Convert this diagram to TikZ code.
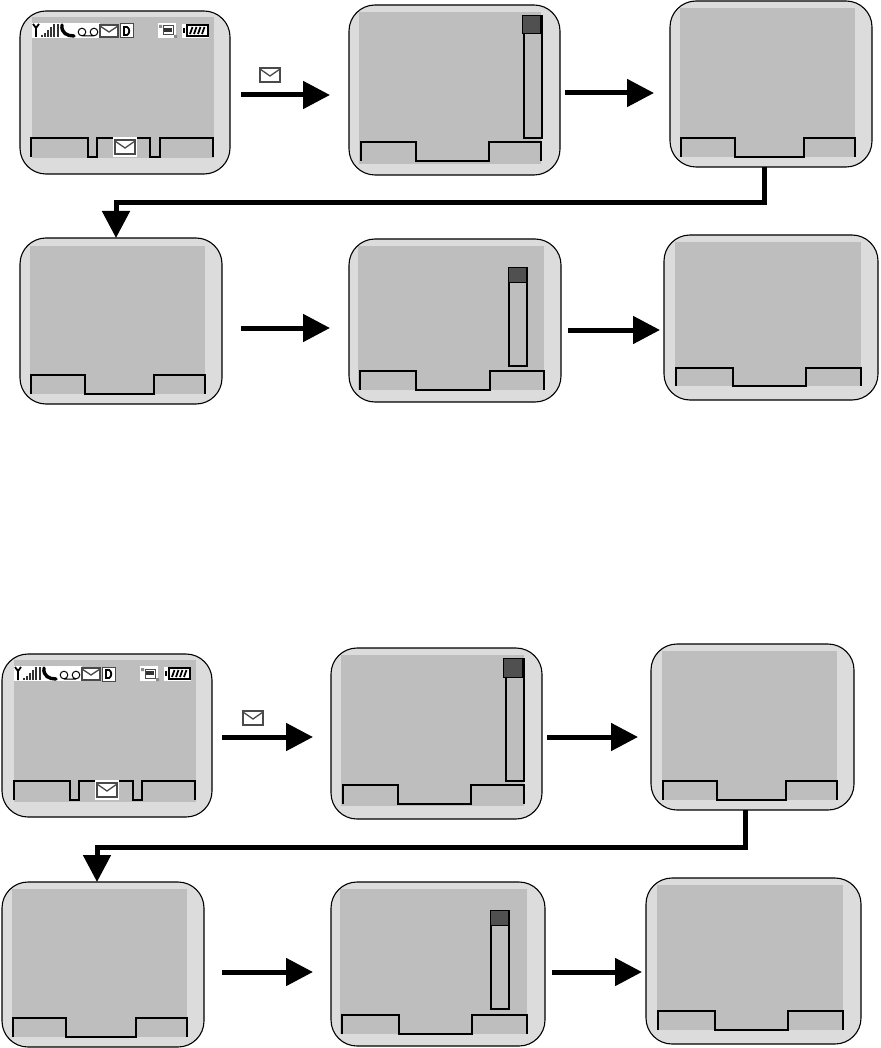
\documentclass[tikz,border=0pt]{standalone}
\usetikzlibrary{arrows.meta,positioning}
\definecolor{CaseGray}{HTML}{DCDCDC}
\definecolor{LcdGray}{HTML}{BEBEBE}
\definecolor{ThumbGray}{HTML}{505050}
\definecolor{IconGray}{HTML}{4A4A4A}
\tikzset{
  phone/.style={rectangle,rounded corners=26pt,draw=black,line width=1.1pt,
                fill=CaseGray,anchor=north west,inner sep=0pt,outer sep=0pt},
  lcd/.style={rectangle,fill=LcdGray,anchor=north west,inner sep=0pt,outer sep=0pt},
  soft/.style={draw=black,line width=1.2pt,line join=miter},
  track/.style={draw=black,line width=1.6pt,fill=LcdGray,anchor=north west,inner sep=0pt},
  thumb/.style={draw=black,line width=1.4pt,fill=ThumbGray,anchor=north west,inner sep=0pt},
  arr/.style={-{Triangle[length=27pt,width=27pt]},line width=5pt,color=black},
  mailbox/.style={draw=IconGray,line width=1.3pt,fill=white},
}
% softkey outline: x of the four corners, then top and bottom
\newcommand{\softkeys}[6]{
  \draw[soft] (#1,#6) -- (#1,#5) -- (#2,#5) -- (#2,#6) -- (#3,#6) -- (#3,#5)
    -- (#4,#5) -- (#4,#6);
}
% softkey outline with the raised middle tab: six x values, top, bottom
\newcommand{\softtabs}[8]{
  \draw[soft] (#1,#8) -- (#1,#7) -- (#2,#7) -- (#2,#8) -- (#3,#8) -- (#3,#7)
    -- (#4,#7) -- (#4,#8) -- (#5,#8) -- (#5,#7) -- (#6,#7) -- (#6,#8);
}
\newcommand{\mailicon}[2]{
  \begin{scope}[shift={(#1,#2)}]
    \draw[mailbox] (0,0) rectangle (20,14);
    \draw[draw=IconGray,line width=1.3pt] (0,1) -- (10,8) -- (20,1);
  \end{scope}
}
% row of status icons along the top of the screen
\newcommand{\statusicons}[2]{
  \begin{scope}[shift={(#1,#2)}]
    \fill[white] (0,0) rectangle (68,15);
    \fill[white] (126,0) rectangle (144,15);
    \fill[white] (150,1) rectangle (177,15);
    \draw[line width=1.8pt] (1,1) -- (4,5) -- (7,1) (4,4) -- (4,14);
    \foreach \xa/\ya in {10/12,13/10,16/7,19/4,22/1}
      \draw[line width=1.7pt,black!80] (\xa,14) -- (\xa,\ya);
    \draw[line width=1.7pt,black!80] (26,14) -- (26,1);
    \draw[line width=3.4pt,line cap=round] (30,2) .. controls (29,10) and (35,13) .. (42,13);
    \draw[line width=1pt] (50,9) circle (3.8) (62,9) circle (3.8) (50,13) -- (62,13);
    \draw[fill=white,draw=IconGray,line width=1.3pt] (68,2) rectangle (86,14);
    \draw[draw=IconGray,line width=1.3pt] (68,3) -- (77,9) -- (86,3);
    \fill[white] (88,1) rectangle (101,15);
    \draw[line width=1pt,IconGray] (88,1) rectangle (101,15);
    \draw[line width=1.8pt] (92,4) -- (92,12) -- (95,12) .. controls (98,11) and (98,5) .. (95,4) -- cycle;
    \draw[line width=1pt,black!70] (131,3) rectangle (141,12);
    \fill[black!80] (132,5) rectangle (140,9);
    \fill[black!45] (127,2) rectangle (130,5) (142,12) rectangle (145,15);
    \draw[line width=1.1pt] (155,2) rectangle (176,13);
    \draw[line width=1.1pt] (152,5) -- (152,10);
    \foreach \xa in {158,162,166,170}
      \draw[line width=1.8pt] (\xa,11) -- (\xa+2.5,4);
  \end{scope}
}
\begin{document}
\begin{tikzpicture}[x=1pt,y=-1pt]
  \useasboundingbox (0,0) rectangle (880,1048);

  % upper group
  \node[phone,minimum width=210,minimum height=163] (p1) at (20,11) {};
  \node[lcd,minimum width=182,minimum height=141] (s1) at (32,17) {};
  \statusicons{32}{23}
  \softtabs{31}{88}{97}{150}{160}{213}{138}{157}
  \fill[white] (113,137) rectangle (137,157);
  \mailicon{115}{140}
  \node[phone,minimum width=211,minimum height=170] (p2) at (349,5) {};
  \node[lcd,minimum width=182,minimum height=152] (s2) at (359,12) {};
  \softkeys{361}{416}{489}{541}{142}{161}
  \node[track,minimum width=18,minimum height=122] (b2) at (523,15) {};
  \node[thumb,minimum width=18,minimum height=18] (t2) at (522,15) {};

  \node[phone,minimum width=202,minimum height=166] (p3) at (670,1) {};
  \node[lcd,minimum width=175,minimum height=149] (s3) at (680,8) {};
  \softkeys{681}{735}{804}{855}{138}{157}

  \node[phone,minimum width=202,minimum height=166] (p4) at (20,238) {};
  \node[lcd,minimum width=175,minimum height=148] (s4) at (30,246) {};
  \softkeys{31}{85}{154}{205}{375}{394}

  \node[phone,minimum width=212,minimum height=163] (p5) at (349,239) {};
  \node[lcd,minimum width=186,minimum height=144] (s5) at (358,246) {};
  \softkeys{360}{416}{490}{544}{371}{390}
  \node[track,minimum width=18,minimum height=98] (b5) at (508,267) {};
  \node[thumb,minimum width=18,minimum height=15] (t5) at (508,267) {};

  \node[phone,minimum width=214,minimum height=165] (p6) at (664,235) {};
  \node[lcd,minimum width=186,minimum height=144] (s6) at (675,242) {};
  \softkeys{676}{733}{806}{861}{368}{386}

  \mailicon{260}{68}
  \draw[arr,shorten <=11pt,shorten >=19pt] ([yshift=-2.5pt]p1.east) -- ([yshift=-2.5pt]p1.east -| p2.west);
  \draw[arr,shorten <=5pt,shorten >=16pt] ([yshift=-3pt]p2.east) -- ([yshift=-3pt]p2.east -| p3.west);
  \draw[arr] ([xshift=-7pt]p3.south) -- ++(0,36) -| ([xshift=-5pt]p4.north);
  \draw[arr,shorten <=19pt,shorten >=19pt] ([yshift=-7pt]p4.east) -- ([yshift=-7pt]p4.east -| p5.west);
  \draw[arr,shorten <=7pt,shorten >=4pt] ([yshift=-9.5pt]p5.east) -- ([yshift=-9.5pt]p5.east -| p6.west);

  % lower group
  \node[phone,minimum width=210,minimum height=163] (q1) at (2,654) {};
  \node[lcd,minimum width=182,minimum height=142] (z1) at (14,660) {};
  \statusicons{14}{666}
  \softtabs{14}{70}{79}{133}{142}{195}{781}{800}
  \fill[white] (95,780) rectangle (119,800);
  \mailicon{97}{783}
  \node[phone,minimum width=211,minimum height=171] (q2) at (331,648) {};
  \node[lcd,minimum width=183,minimum height=151] (z2) at (341,655) {};
  \softkeys{343}{398}{471}{524}{785}{804}
  \node[track,minimum width=18,minimum height=122] (c2) at (505,658) {};
  \node[thumb,minimum width=19,minimum height=19] (u2) at (503,658) {};

  \node[phone,minimum width=203,minimum height=166] (q3) at (651,644) {};
  \node[lcd,minimum width=175,minimum height=149] (z3) at (662,651) {};
  \softkeys{663}{717}{786}{837}{781}{800}

  \node[phone,minimum width=202,minimum height=165] (q4) at (2,882) {};
  \node[lcd,minimum width=175,minimum height=148] (z4) at (12,889) {};
  \softkeys{13}{66}{136}{187}{1018}{1037}

  \node[phone,minimum width=214,minimum height=164] (q5) at (331,882) {};
  \node[lcd,minimum width=187,minimum height=145] (z5) at (340,889) {};
  \softkeys{342}{399}{472}{527}{1015}{1034}
  \node[track,minimum width=18,minimum height=98] (c5) at (490,910) {};
  \node[thumb,minimum width=18,minimum height=15] (u5) at (490,910) {};

  \node[phone,minimum width=215,minimum height=166] (q6) at (646,878) {};
  \node[lcd,minimum width=186,minimum height=145] (z6) at (657,885) {};
  \softkeys{658}{715}{788}{843}{1011}{1030}

  \mailicon{243}{711}
  \draw[arr,shorten <=10pt,shorten >=18pt] ([yshift=-1.5pt]q1.east) -- ([yshift=-1.5pt]q1.east -| q2.west);
  \draw[arr,shorten <=5pt,shorten >=13pt] ([yshift=-3.5pt]q2.east) -- ([yshift=-3.5pt]q2.east -| q3.west);
  \draw[arr] ([xshift=-7pt]q3.south) -- ++(0,37) -| ([xshift=-6pt]q4.north);
  \draw[arr,shorten <=18pt,shorten >=18pt] ([yshift=-7.5pt]q4.east) -- ([yshift=-7.5pt]q4.east -| q5.west);
  \draw[arr,shorten <=7pt,shorten >=4pt] ([yshift=-8pt]q5.east) -- ([yshift=-8pt]q5.east -| q6.west);
\end{tikzpicture}
\end{document}
